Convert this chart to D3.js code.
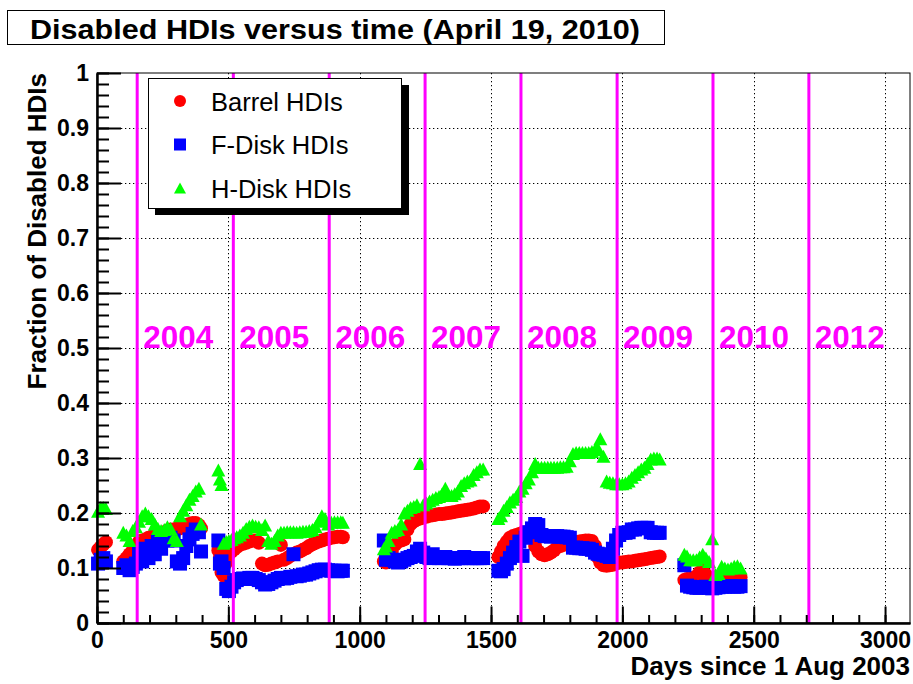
<!DOCTYPE html>
<html>
<head>
<meta charset="utf-8">
<script src="https://cdn.jsdelivr.net/npm/d3@7"></script>
<style>
  body { margin: 0; background: #fff; }
  svg { display: block; }
  text { font-family: "Liberation Sans", Arial, Helvetica, sans-serif; }
</style>
</head>
<body>
<svg id="chart" width="913" height="684"></svg>
<script>
// Measurement days (days since 1 Aug 2003), shared by the three detector parts
const days = [
  4, 14, 24, 34,
  100, 112, 124, 136, 148, 160, 172, 184, 196, 208, 220, 232, 244, 256, 268, 280, 292, 304, 316, 328, 340, 352, 364, 376, 388, 396,
  462, 468, 474, 482, 492, 502, 512, 522, 532, 544, 556, 568, 580, 592, 604, 616, 628, 640, 652, 664, 676, 688, 700, 712, 724,
  736, 748, 760, 772, 784, 796, 808, 820, 832, 844, 856, 868, 880, 892, 904, 916, 928, 936,
  1092, 1100, 1110, 1122, 1134, 1146, 1158, 1170, 1182, 1194, 1206, 1218, 1230, 1242, 1254, 1266, 1278, 1290, 1302, 1314,
  1326, 1338, 1350, 1362, 1374, 1386, 1398, 1410, 1422, 1434, 1446, 1458, 1470,
  1528, 1538, 1548, 1560, 1572, 1584, 1596, 1608, 1620, 1632, 1644, 1656, 1668, 1680, 1692, 1704, 1716, 1728, 1740, 1752,
  1764, 1776, 1788, 1800, 1812, 1824, 1836, 1848, 1860, 1872, 1884, 1896, 1906, 1916, 1928, 1940, 1952, 1964, 1976, 1988,
  2000, 2012, 2024, 2036, 2048, 2060, 2072, 2084, 2096, 2108, 2120, 2132, 2142,
  2236, 2246, 2258, 2270, 2282, 2294, 2306, 2318, 2330, 2342, 2354, 2366, 2378, 2390, 2402, 2414, 2426, 2438, 2450
];

// Fraction of disabled Barrel HDIs
const barrel = [
  0.133, 0.138, 0.143, 0.147,
  0.112, 0.118, 0.125, 0.132, 0.140, 0.148, 0.150, 0.152, 0.155, 0.157, 0.160, 0.160, 0.162, 0.165, 0.168,
  0.170, 0.170, 0.172, 0.172, 0.175, 0.178, 0.180, 0.182, 0.182, 0.178, 0.172,
  0.132, 0.120, 0.092, 0.086, 0.110, 0.125, 0.130, 0.134, 0.138, 0.142, 0.144, 0.146, 0.148, 0.150, 0.150,
  0.146, 0.108, 0.105, 0.106, 0.108, 0.110, 0.112, 0.142, 0.115, 0.118, 0.122, 0.125, 0.128, 0.130, 0.133,
  0.136, 0.140, 0.143, 0.146, 0.148, 0.150, 0.152, 0.153, 0.155, 0.156, 0.157, 0.157, 0.156,
  0.112, 0.110, 0.115, 0.130, 0.142, 0.148, 0.150, 0.152, 0.170, 0.180, 0.185, 0.188, 0.190, 0.192, 0.193,
  0.195, 0.196, 0.197, 0.198, 0.198, 0.199, 0.200, 0.201, 0.202, 0.203, 0.204, 0.205, 0.206, 0.207, 0.208,
  0.210, 0.212, 0.212,
  0.120, 0.130, 0.140, 0.148, 0.155, 0.158, 0.160, 0.162, 0.164, 0.165, 0.164, 0.160, 0.140, 0.130, 0.125,
  0.123, 0.125, 0.128, 0.132, 0.138, 0.140, 0.142, 0.143, 0.145, 0.146, 0.147, 0.148, 0.149, 0.150, 0.150,
  0.149, 0.140, 0.120, 0.110, 0.105, 0.104, 0.105, 0.106, 0.108, 0.110, 0.110, 0.111, 0.112, 0.112, 0.113,
  0.114, 0.115, 0.116, 0.117, 0.118, 0.119, 0.120, 0.121,
  0.078, 0.080, 0.080, 0.082, 0.085, 0.092, 0.095, 0.088, 0.082, 0.080, 0.080, 0.080, 0.081, 0.081, 0.082,
  0.082, 0.083, 0.083, 0.083
];

// Fraction of disabled F-Disk HDIs
const fdisk = [
  0.108, 0.115, 0.118, 0.112,
  0.100, 0.105, 0.096, 0.102, 0.108, 0.128, 0.112, 0.135, 0.118, 0.140, 0.125, 0.148, 0.135, 0.155, 0.150,
  0.155, 0.150, 0.112, 0.108, 0.118, 0.140, 0.152, 0.162, 0.170, 0.165, 0.130,
  0.150, 0.108, 0.112, 0.100, 0.062, 0.058, 0.066, 0.074, 0.078, 0.080, 0.081, 0.080, 0.082, 0.082, 0.080,
  0.078, 0.074, 0.070, 0.071, 0.074, 0.077, 0.080, 0.082, 0.081, 0.082, 0.084, 0.125, 0.085, 0.086, 0.088,
  0.088, 0.090, 0.092, 0.094, 0.096, 0.097, 0.097, 0.096, 0.095, 0.095, 0.094, 0.095, 0.095,
  0.150, 0.115, 0.118, 0.115, 0.112, 0.110, 0.112, 0.115, 0.118, 0.120, 0.122, 0.130, 0.135, 0.128, 0.120,
  0.118, 0.125, 0.120, 0.118, 0.118, 0.120, 0.118, 0.118, 0.117, 0.118, 0.118, 0.120, 0.118, 0.118, 0.118,
  0.118, 0.118, 0.118,
  0.095, 0.094, 0.098, 0.108, 0.118, 0.128, 0.138, 0.148, 0.122, 0.155, 0.165, 0.172, 0.180, 0.178, 0.160,
  0.158, 0.158, 0.157, 0.158, 0.158, 0.157, 0.157, 0.156, 0.155, 0.137, 0.137, 0.136, 0.136, 0.135, 0.135,
  0.133, 0.128, 0.126, 0.125, 0.124, 0.122, 0.120, 0.135, 0.150, 0.160, 0.164, 0.164, 0.165, 0.170, 0.170,
  0.172, 0.173, 0.173, 0.173, 0.165, 0.164, 0.164, 0.164,
  0.105, 0.068, 0.066, 0.065, 0.064, 0.064, 0.065, 0.066, 0.064, 0.063, 0.064, 0.065, 0.066, 0.066, 0.067,
  0.067, 0.066, 0.066, 0.067
];

// Fraction of disabled H-Disk HDIs
const hdisk = [
  0.203, 0.210, 0.210, 0.208,
  0.165, 0.160, 0.150, 0.168, 0.175, 0.185, 0.195, 0.200, 0.195, 0.190, 0.180, 0.172, 0.168, 0.170, 0.175,
  0.172, 0.155, 0.150, 0.195, 0.205, 0.215, 0.225, 0.232, 0.240, 0.245, 0.180,
  0.278, 0.262, 0.252, 0.145, 0.148, 0.150, 0.152, 0.155, 0.157, 0.160, 0.165, 0.172, 0.176, 0.178, 0.176,
  0.175, 0.170, 0.178, 0.150, 0.145, 0.150, 0.160, 0.165, 0.165, 0.166, 0.166, 0.166, 0.165, 0.166, 0.167,
  0.167, 0.168, 0.170, 0.175, 0.185, 0.195, 0.190, 0.180, 0.183, 0.184, 0.184, 0.184, 0.183,
  0.135, 0.140, 0.150, 0.165, 0.168, 0.170, 0.180, 0.200, 0.205, 0.210, 0.212, 0.215, 0.290, 0.215, 0.218,
  0.222, 0.225, 0.228, 0.230, 0.235, 0.245, 0.232, 0.232, 0.235, 0.240, 0.250, 0.255, 0.258, 0.260, 0.270,
  0.275, 0.280, 0.280,
  0.190, 0.195, 0.205, 0.212, 0.220, 0.225, 0.230, 0.240, 0.245, 0.255, 0.262, 0.275, 0.290, 0.283, 0.283,
  0.283, 0.283, 0.283, 0.283, 0.283, 0.284, 0.284, 0.285, 0.295, 0.308, 0.310, 0.310, 0.310, 0.310, 0.310,
  0.312, 0.315, 0.318, 0.335, 0.303, 0.258, 0.256, 0.255, 0.253, 0.253, 0.253, 0.255, 0.258, 0.265, 0.270,
  0.275, 0.280, 0.283, 0.290, 0.298, 0.300, 0.300, 0.298,
  0.125, 0.122, 0.115, 0.115, 0.115, 0.120, 0.125, 0.118, 0.112, 0.153, 0.088, 0.090, 0.103, 0.100, 0.098,
  0.100, 0.103, 0.104, 0.100
];

// 1 January of each year, in days since 1 Aug 2003, and the labels placed after each line
const yearStarts = [153, 519, 884, 1249, 1614, 1980, 2345, 2710];
const yearLabels = ["2004", "2005", "2006", "2007", "2008", "2009", "2010", "2012"];

const xMajor = [0, 500, 1000, 1500, 2000, 2500, 3000];
const yMajor = [0, 0.1, 0.2, 0.3, 0.4, 0.5, 0.6, 0.7, 0.8, 0.9, 1];
const legendNames = ["Barrel HDIs", "F-Disk HDIs", "H-Disk HDIs"];

const RED = "#ff0000", BLUE = "#0000ff", GREEN = "#00ff00", MAGENTA = "#ff00ff";
const frame = { left: 97, right: 910, top: 73, bottom: 623 };
const MS = 14; // marker size in the plot, px

const svg = d3.select("#chart");
const x = d3.scaleLinear().domain([0, 3095]).range([frame.left, frame.right]);
const y = d3.scaleLinear().domain([0, 1]).range([frame.bottom, frame.top]);

// Dotted grid at the major ticks
const grid = svg.append("g")
  .attr("stroke", "#000").attr("stroke-width", 1).attr("stroke-dasharray", "1.3,2.7");
grid.selectAll("line.gx").data(xMajor.filter(v => v > 0)).join("line")
  .attr("class", "gx")
  .attr("x1", d => Math.round(x(d)) + 0.5).attr("x2", d => Math.round(x(d)) + 0.5)
  .attr("y1", frame.top).attr("y2", frame.bottom);
grid.selectAll("line.gy").data(yMajor.filter(v => v > 0 && v < 1)).join("line")
  .attr("class", "gy")
  .attr("x1", frame.left).attr("x2", frame.right)
  .attr("y1", d => Math.round(y(d)) + 0.5).attr("y2", d => Math.round(y(d)) + 0.5);

// Markers
const rows = days.map((d, i) => ({ day: d, barrel: barrel[i], fdisk: fdisk[i], hdisk: hdisk[i] }));
const triPath = (cx, cy, w, h) => `M${cx},${cy - h / 2}L${cx + w / 2},${cy + h / 2}L${cx - w / 2},${cy + h / 2}Z`;

svg.append("g").selectAll("circle")
  .data(rows.filter(r => r.barrel != null)).join("circle")
  .attr("cx", d => x(d.day)).attr("cy", d => y(d.barrel)).attr("r", MS / 2)
  .attr("fill", RED);

svg.append("g").selectAll("rect")
  .data(rows.filter(r => r.fdisk != null)).join("rect")
  .attr("x", d => x(d.day) - MS / 2).attr("y", d => y(d.fdisk) - MS / 2)
  .attr("width", MS).attr("height", MS)
  .attr("fill", BLUE);

svg.append("g").selectAll("path")
  .data(rows.filter(r => r.hdisk != null)).join("path")
  .attr("d", d => triPath(x(d.day), y(d.hdisk), MS, MS - 1))
  .attr("fill", GREEN);

// Year boundaries and year labels
svg.append("g").selectAll("line").data(yearStarts).join("line")
  .attr("x1", d => x(d)).attr("x2", d => x(d))
  .attr("y1", frame.top).attr("y2", frame.bottom)
  .attr("stroke", MAGENTA).attr("stroke-width", 3);

svg.append("g").selectAll("text").data(yearStarts).join("text")
  .attr("x", d => x(d) + 6).attr("y", y(0.5))
  .attr("fill", MAGENTA)
  .attr("font-size", 31).attr("font-weight", "bold")
  .attr("textLength", 70).attr("lengthAdjust", "spacingAndGlyphs")
  .text((d, i) => yearLabels[i]);

// Axes
const styleAxis = g => {
  g.select(".domain").attr("stroke", "#000").attr("stroke-width", 2);
  g.selectAll(".tick line").attr("stroke", "#000").attr("stroke-width", 2);
  g.selectAll("text").attr("font-family", null).attr("font-size", null)
    .style("font", "bold 23px 'Liberation Sans', Arial, sans-serif").attr("fill", "#000");
};

const gxMinor = svg.append("g").attr("transform", `translate(0,${frame.bottom})`)
  .call(d3.axisBottom(x).tickValues(d3.range(0, 3001, 100)).tickSize(-8).tickSizeOuter(0).tickFormat(""));
styleAxis(gxMinor);
const gx = svg.append("g").attr("transform", `translate(0,${frame.bottom})`)
  .call(d3.axisBottom(x).tickValues(xMajor).tickSize(-16.5).tickSizeOuter(0).tickPadding(8.5).tickFormat(d3.format("d")));
styleAxis(gx);

const gyMinor = svg.append("g").attr("transform", `translate(${frame.left},0)`)
  .call(d3.axisLeft(y).tickValues(d3.range(0, 51).map(i => i / 50)).tickSize(-12).tickSizeOuter(0).tickFormat(""));
styleAxis(gyMinor);
const gy = svg.append("g").attr("transform", `translate(${frame.left},0)`)
  .call(d3.axisLeft(y).tickValues(yMajor).tickSize(-24).tickSizeOuter(0).tickPadding(8).tickFormat(d3.format("~g")));
styleAxis(gy);

// Frame
svg.append("rect")
  .attr("x", frame.left).attr("y", frame.top)
  .attr("width", frame.right - frame.left).attr("height", frame.bottom - frame.top)
  .attr("fill", "none").attr("stroke", "#000").attr("stroke-width", 1);

// Axis titles
svg.append("text")
  .attr("x", frame.right).attr("y", 675)
  .attr("text-anchor", "end").attr("font-size", 26).attr("font-weight", "bold")
  .text("Days since 1 Aug 2003");
svg.append("text")
  .attr("transform", `translate(46,${frame.top}) rotate(-90)`)
  .attr("text-anchor", "end").attr("font-size", 26).attr("font-weight", "bold")
  .text("Fraction of Disabled HDIs");

// Legend with drop shadow
const legend = svg.append("g");
legend.append("rect").attr("x", 155).attr("y", 85).attr("width", 254).attr("height", 130).attr("fill", "#000");
legend.append("rect").attr("x", 148.5).attr("y", 78.5).attr("width", 253).attr("height", 130)
  .attr("fill", "#fff").attr("stroke", "#000").attr("stroke-width", 1);
const legendRows = [101, 144.5, 188];
legend.append("circle").attr("cx", 180).attr("cy", legendRows[0]).attr("r", 6).attr("fill", RED);
legend.append("rect").attr("x", 174).attr("y", legendRows[1] - 6).attr("width", 12).attr("height", 12).attr("fill", BLUE);
legend.append("path").attr("d", triPath(180, legendRows[2], 12, 11)).attr("fill", GREEN);
legend.selectAll("text").data(legendNames).join("text")
  .attr("x", 211).attr("y", (d, i) => legendRows[i] + 9.5)
  .attr("font-size", 25.5)
  .text(d => d);

// Title box
svg.append("rect").attr("x", 7.5).attr("y", 10.5).attr("width", 657).attr("height", 34)
  .attr("fill", "#fff").attr("stroke", "#000").attr("stroke-width", 1);
svg.append("text")
  .attr("x", 30).attr("y", 38.5)
  .attr("font-size", 28.5).attr("font-weight", "bold")
  .attr("textLength", 610).attr("lengthAdjust", "spacingAndGlyphs")
  .text("Disabled HDIs versus time (April 19, 2010)");
</script>
</body>
</html>
